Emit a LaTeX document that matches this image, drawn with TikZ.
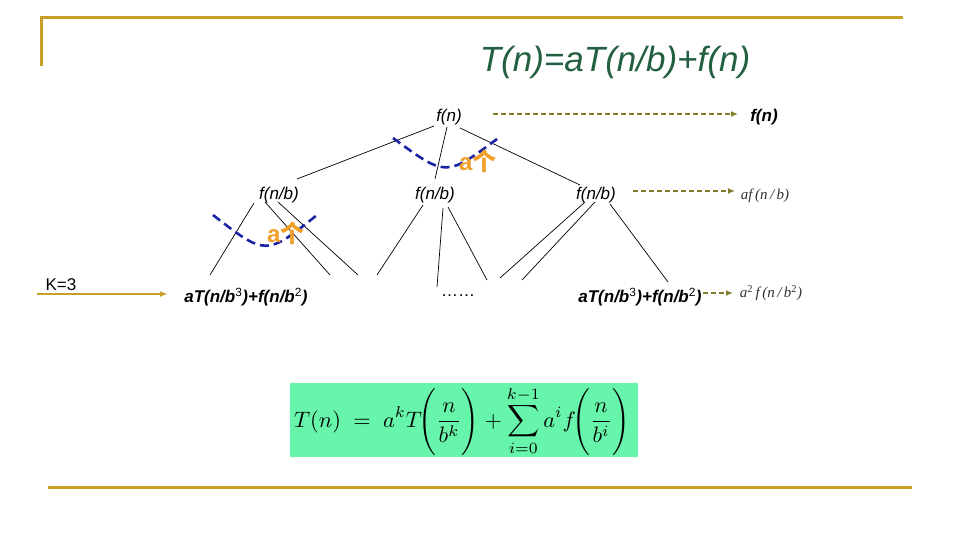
\documentclass[tikz,border=0pt]{standalone}
\usepackage{fontspec}
\setmainfont{Liberation Serif}
\setsansfont{Liberation Sans}
\newfontfamily\arial{Liberation Sans}
\newfontfamily\cjk{Noto Sans CJK SC}
\usetikzlibrary{arrows.meta}
\definecolor{gold}{RGB}{200,160,40}
\definecolor{titlegreen}{RGB}{35,95,65}
\definecolor{olive}{RGB}{130,125,40}
\definecolor{orng}{RGB}{240,160,40}
\definecolor{arcblue}{RGB}{25,35,165}
\definecolor{mint}{RGB}{102,245,170}
\definecolor{darkgray}{RGB}{50,50,50}
\begin{document}
\begin{tikzpicture}[x=1pt,y=-1pt,
  lbl/.style={inner sep=0pt,font=\fontsize{17}{20}\selectfont\arial\itshape},
  blbl/.style={inner sep=0pt,font=\fontsize{17}{20}\selectfont\arial\bfseries\itshape},
  rlbl/.style={inner sep=0pt,text=darkgray,font=\fontsize{15}{18}\selectfont\rmfamily\itshape},
  edge/.style={black,line width=0.7pt},
  arcline/.style={arcblue,line width=2.6pt,dash pattern=on 9pt off 5pt},
  olivearrow/.style={olive,line width=1.4pt,dash pattern=on 5pt off 3pt,-{Latex[length=7pt,width=6pt]}},
  goldline/.style={gold,line width=3pt},
  countlbl/.style={inner sep=0pt,text=orng,font=\fontsize{24}{28}\selectfont\arial\bfseries}]
\useasboundingbox (0,0) rectangle (960,540);
\fill[white] (0,0) rectangle (960,540);

% frame lines
\coordinate (tl) at (40,18);
\coordinate (tr) at (903,18);
\coordinate (lt) at (41,18);
\coordinate (lb) at (41,66);
\coordinate (bl) at (48,487);
\coordinate (br) at (912,487);
\draw[goldline] (tr) -- (tl);
\draw[goldline] (lt) -- (lb);
\draw[goldline] (bl) -- (br);

% title
\node[inner sep=0pt,text=titlegreen,font=\fontsize{35}{40}\selectfont\arial\itshape] (title) at (615,62) {T(n)=aT(n/b)+f(n)};

% tree nodes
\node[lbl] (root) at (449,117) {f(n)};
\node[blbl] (rootr) at (764,117) {f(n)};
\node[lbl] (l1a) at (279,195) {f(n/b)};
\node[lbl] (l1b) at (435,195) {f(n/b)};
\node[lbl] (l1c) at (596,195) {f(n/b)};
\node[rlbl] (l1r) at (765,196) {af\,(n\,/\,b)};
\node[blbl] (l2a) at (246,297) {aT(n/b\textsuperscript{\mdseries\upshape 3})+f(n/b\textsuperscript{\mdseries\upshape 2})};
\node[inner sep=0pt,font=\fontsize{17}{20}\selectfont\arial] (l2b) at (458,296) {……};
\node[blbl] (l2c) at (640,297) {aT(n/b\textsuperscript{\mdseries\upshape 3})+f(n/b\textsuperscript{\mdseries\upshape 2})};
\node[rlbl] (l2r) at (771,293) {a\textsuperscript{\upshape 2}\,f\,(n\,/\,b\textsuperscript{\upshape 2})};
\node[inner sep=0pt,font=\fontsize{17}{20}\selectfont\arial] (k3) at (61,285) {K=3};

% edge end points
\coordinate (r1) at (434,126); \coordinate (r1e) at (297,179);
\coordinate (r2) at (447,127); \coordinate (r2e) at (435,179);
\coordinate (r3) at (460,128); \coordinate (r3e) at (580,185);
\coordinate (a1) at (254,203); \coordinate (a1e) at (210,275);
\coordinate (a2) at (265,202); \coordinate (a2e) at (330,275);
\coordinate (a3) at (278,202); \coordinate (a3e) at (358,275);
\coordinate (b1) at (423,205); \coordinate (b1e) at (377,275);
\coordinate (b2) at (443,208); \coordinate (b2e) at (437,287);
\coordinate (b3) at (448,207); \coordinate (b3e) at (487,280);
\coordinate (c1) at (585,202); \coordinate (c1e) at (500,278);
\coordinate (c2) at (595,202); \coordinate (c2e) at (522,280);
\coordinate (c3) at (610,204); \coordinate (c3e) at (668,282);

\draw[edge] (r1) -- (r1e);
\draw[edge] (r2) -- (r2e);
\draw[edge] (r3) -- (r3e);
\draw[edge] (a1) -- (a1e);
\draw[edge] (a2) -- (a2e);
\draw[edge] (a3) -- (a3e);
\draw[edge] (b1) -- (b1e);
\draw[edge] (b2) -- (b2e);
\draw[edge] (b3) -- (b3e);
\draw[edge] (c1) -- (c1e);
\draw[edge] (c2) -- (c2e);
\draw[edge] (c3) -- (c3e);

% arcs
\coordinate (arc1s) at (393,138); \coordinate (arc1e) at (497,139);
\coordinate (arc2s) at (213,215); \coordinate (arc2e) at (317,215);
\draw[arcline] (arc1s) .. controls (446,177) .. (arc1e);
\draw[arcline] (arc2s) .. controls (266,256) .. (arc2e);

% count labels
\node[countlbl,anchor=west] (cnt1) at (459,161) {a\cjk 个};
\node[countlbl,anchor=west] (cnt2) at (267,233) {a\cjk 个};

% dashed arrows
\coordinate (d1s) at (493,114); \coordinate (d1e) at (738,114);
\coordinate (d2s) at (633,191); \coordinate (d2e) at (735,191);
\coordinate (d3s) at (703,293); \coordinate (d3e) at (733,293);
\draw[olivearrow] (d1s) -- (d1e);
\draw[olivearrow] (d2s) -- (d2e);
\draw[olivearrow] (d3s) -- (d3e);

% K=3 arrow
\coordinate (ks) at (37,294);
\coordinate (ke) at (168,294);
\draw[gold,line width=2pt,-{Latex[length=8pt,width=6pt]}] (ks) -- (ke);

% formula
\node[fill=mint,minimum width=348pt,minimum height=74pt,inner sep=0pt] (formbox) at (464,420) {};
\node[inner sep=0pt] (form) at (462,421)
 {\resizebox{336pt}{!}{$\displaystyle T(n)\;=\;a^{k}T\!\Biggl(\frac{n}{b^{k}}\Biggr)+\sum_{i=0}^{k-1}a^{i}f\!\Biggl(\frac{n}{b^{i}}\Biggr)$}};
\end{tikzpicture}
\end{document}
